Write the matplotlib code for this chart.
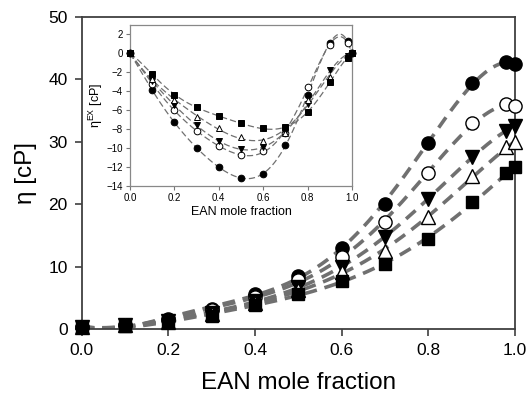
import numpy as np
import matplotlib
matplotlib.use("Agg")
import matplotlib.pyplot as plt

plt.rcParams['font.family'] = ['Liberation Sans', 'DejaVu Sans']

x = [0.0, 0.1, 0.2, 0.3, 0.4, 0.5, 0.6, 0.7, 0.8, 0.9, 0.98, 1.0]

# main chart: viscosity [cP]
eta_fc = [0.3, 0.7, 1.6, 3.2, 5.6, 8.5, 13.0, 20.1, 29.8, 39.4, 42.8, 42.5]
eta_oc = [0.3, 0.7, 1.5, 3.0, 5.2, 7.8, 11.6, 17.1, 25.0, 33.0, 36.0, 35.8]
eta_dt = [0.3, 0.6, 1.3, 2.6, 4.5, 6.7, 10.0, 14.7, 20.9, 27.5, 31.8, 32.6]
eta_ut = [0.3, 0.6, 1.2, 2.4, 4.2, 6.2, 9.2, 12.5, 17.9, 24.5, 29.1, 29.9]
eta_sq = [0.3, 0.5, 1.1, 2.1, 3.9, 5.6, 7.7, 10.4, 14.4, 20.4, 25.0, 25.9]

# inset: excess viscosity [cP]
ex_fc = [0, -3.9, -7.25, -10.0, -12.0, -13.15, -12.7, -9.7, -4.4, 1.1, 1.3, 0]
ex_oc = [0, -3.2, -6.0, -8.2, -9.8, -10.7, -10.3, -8.4, -3.5, 0.9, 1.05, 0]
ex_dt = [0, -2.9, -5.5, -7.6, -9.25, -10.1, -9.9, -8.3, -5.3, -1.8, -0.3, 0]
ex_ut = [0, -2.7, -4.9, -6.7, -7.9, -8.85, -9.2, -8.4, -4.9, -2.5, -0.3, 0]
ex_sq = [0, -2.2, -4.35, -5.65, -6.65, -7.4, -7.9, -7.8, -6.2, -3.0, -0.5, 0]

styles = [
    ('o', 'black'),
    ('o', 'white'),
    ('v', 'black'),
    ('^', 'white'),
    ('s', 'black'),
]

LINE = '#707070'
SPINE = '#404040'

fig = plt.figure(figsize=(5.28, 4.0), dpi=100)
ax = fig.add_axes([0.1547, 0.1775, 0.8207, 0.78])

xs = np.linspace(0, 1, 300)
xa = np.array(x)

def fit_main(y):
    c = np.polyfit(xa, np.array(y), 5)
    return np.polyval(c, xs)

def fit_rk(y):
    # Redlich-Kister style fit: x(1-x) * poly(2x-1)
    z = 2 * xa - 1
    A = np.vstack([xa * (1 - xa) * z ** k for k in range(5)]).T
    coef, *_ = np.linalg.lstsq(A, np.array(y), rcond=None)
    zs = 2 * xs - 1
    B = np.vstack([xs * (1 - xs) * zs ** k for k in range(5)]).T
    return B @ coef

main_series = [eta_fc, eta_oc, eta_dt, eta_ut, eta_sq]
for y, (m, fc) in zip(main_series, styles):
    ax.plot(xs, fit_main(y), ls=(0, (3.5, 2.2)), color=LINE, lw=2.6, zorder=2)
    ms = 8 if m == 's' else 9.5
    ax.plot(x, y, ls='none', marker=m, ms=ms, mfc=fc, mec='black', mew=1.0,
            zorder=3, clip_on=False)

ax.set_xlim(0, 1)
ax.set_ylim(0, 50)
ax.set_xticks([0.0, 0.2, 0.4, 0.6, 0.8, 1.0])
ax.set_xticklabels(['0.0', '0.2', '0.4', '0.6', '0.8', '1.0'])
ax.set_yticks([0, 10, 20, 30, 40, 50])
ax.tick_params(direction='out', length=5, width=1.2, color=SPINE,
               labelsize=12.5, pad=5)
for s in ax.spines.values():
    s.set_color(SPINE)
    s.set_linewidth(1.3)
ax.set_xlabel('EAN mole fraction', fontsize=17.5, labelpad=10)
ax.set_ylabel('η [cP]', fontsize=17.5, labelpad=8)

# inset
ins = fig.add_axes([0.2462, 0.535, 0.4205, 0.4025])
ex_series = [ex_fc, ex_oc, ex_dt, ex_ut, ex_sq]
for y, (m, fc) in zip(ex_series, styles):
    ins.plot(xs, fit_rk(y), ls=(0, (5, 2.5)), color=LINE, lw=0.9, zorder=2)
    ms = 4.2 if m == 's' else 4.8
    ins.plot(x, y, ls='none', marker=m, ms=ms, mfc=fc, mec='black', mew=0.7,
             zorder=3, clip_on=False)
ins.set_xlim(0, 1)
ins.set_ylim(-14, 3)
ins.set_xticks([0.0, 0.2, 0.4, 0.6, 0.8, 1.0])
ins.set_xticklabels(['0.0', '0.2', '0.4', '0.6', '0.8', '1.0'])
ins.set_yticks(list(range(-14, 3, 2)))
ins.tick_params(direction='out', length=3, width=0.8, color='#777777',
                labelsize=7, pad=2)
for s in ins.spines.values():
    s.set_color('#888888')
    s.set_linewidth(0.9)
ins.set_xlabel('EAN mole fraction', fontsize=9, labelpad=2)
ins.set_ylabel(r'$\mathregular{\eta^{EX}}$ [cP]', fontsize=9, labelpad=1)

fig.savefig('out.png', dpi=100)
